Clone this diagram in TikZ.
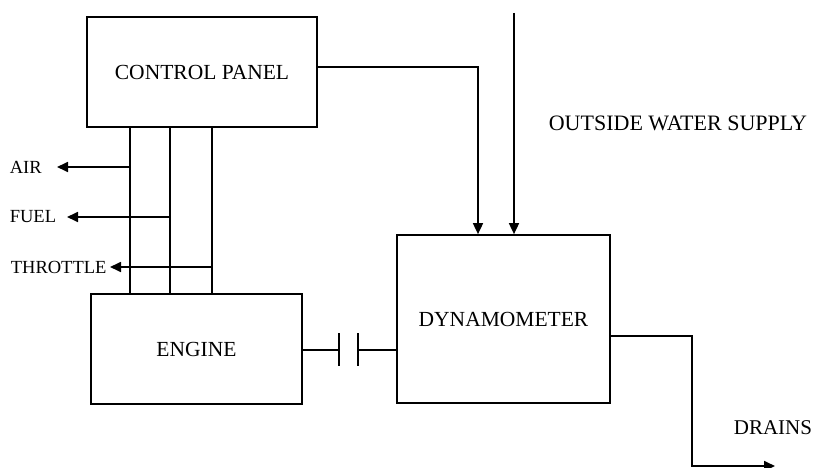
\documentclass[tikz,border=0pt]{standalone}
\usepackage{fontspec}
\setmainfont{Liberation Serif}
\usetikzlibrary{arrows.meta}
\begin{document}
\begin{tikzpicture}[x=1pt,y=-1pt,line width=1.7pt,
  box/.style={draw,rectangle,inner sep=0pt,font=\fontsize{21.5}{25}\selectfont},
  lbl/.style={inner sep=0pt,anchor=west,font=\fontsize{21}{25}\selectfont},
  slbl/.style={inner sep=0pt,anchor=west,font=\fontsize{18.5}{22}\selectfont},
  arr/.style={-{Triangle[length=11pt,width=10pt]}}]
\useasboundingbox (0,0) rectangle (814,468);
% boxes
\node[box,minimum width=230pt,minimum height=110pt] (cp) at (202,72) {CONTROL PANEL};
\node[box,minimum width=211pt,minimum height=110pt] (eng) at (196.5,349) {ENGINE};
\node[box,minimum width=213pt,minimum height=168pt] (dyn) at (503.5,319) {DYNAMOMETER};
% labels
\node[slbl] (air) at (9,167) {AIR};
\node[slbl] (fuel) at (9,217) {FUEL};
\node[slbl] (thr) at (10,267) {THROTTLE};
\node[lbl,font=\fontsize{22}{26}\selectfont] (ows) at (548,123) {OUTSIDE WATER SUPPLY};
\node[lbl] (drn) at (733,428) {DRAINS};
% control lines between control panel and engine
\coordinate (v1) at (130,167);
\coordinate (v2) at (170,217);
\coordinate (v3) at (212,267);
\draw (cp.south -| v1) -- (eng.north -| v1);
\draw (cp.south -| v2) -- (eng.north -| v2);
\draw (cp.south -| v3) -- (eng.north -| v3);
\coordinate (t1) at (57,167);
\coordinate (t2) at (67,217);
\coordinate (t3) at (110,267);
\draw[arr] (v1) -- (t1);
\draw[arr] (v2) -- (t2);
\draw[arr] (v3) -- (t3);
% control panel to dynamometer
\coordinate (c1) at (478,67);
\draw[arr] (cp.east |- c1) -- (c1) -- (c1 |- dyn.north);
% outside water supply
\coordinate (ws) at (514,13);
\draw[arr] (ws) -- (ws |- dyn.north);
% coupling
\coordinate (k1) at (339,350);
\coordinate (k2) at (358,350);
\coordinate (k1a) at (339,333);
\coordinate (k1b) at (339,366);
\coordinate (k2a) at (358,333);
\coordinate (k2b) at (358,366);
\draw (eng.east |- k1) -- (k1);
\draw (k1a) -- (k1b);
\draw (k2a) -- (k2b);
\draw (k2) -- (dyn.west |- k2);
% drains
\coordinate (d1) at (692,336);
\coordinate (d2) at (692,466);
\coordinate (dt) at (775,466);
\draw[arr] (dyn.east |- d1) -- (d1) -- (d2) -- (dt);
\end{tikzpicture}
\end{document}
